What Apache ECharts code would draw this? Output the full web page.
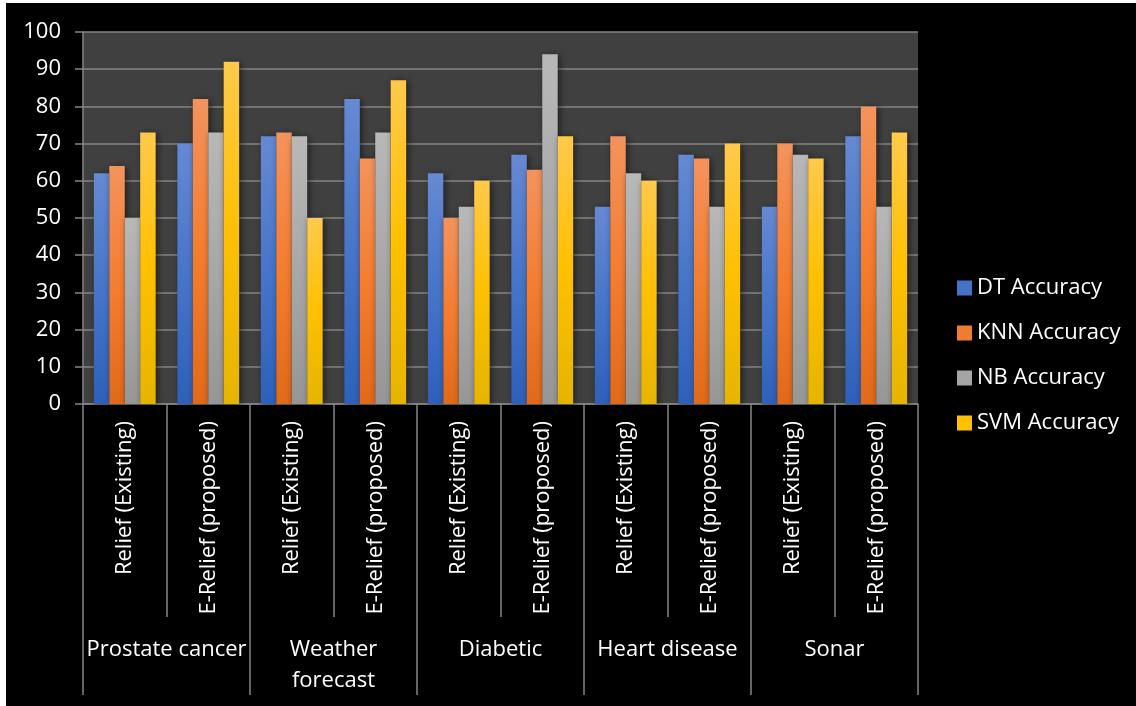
<!DOCTYPE html>
<html>
<head>
<meta charset="utf-8">
<script src="https://cdn.jsdelivr.net/npm/echarts@6/dist/echarts.min.js"></script>
<style>
  html, body { margin: 0; padding: 0; background: #ffffff; }
  #chart { width: 1136px; height: 706px; }
</style>
</head>
<body>
<div id="chart"></div>
<script>
// Feature-selection methods, one pair per dataset
const subCategories = [
  'Relief (Existing)', 'E-Relief (proposed)',
  'Relief (Existing)', 'E-Relief (proposed)',
  'Relief (Existing)', 'E-Relief (proposed)',
  'Relief (Existing)', 'E-Relief (proposed)',
  'Relief (Existing)', 'E-Relief (proposed)'
];
const datasets = ['Prostate cancer', 'Weather\nforecast', 'Diabetic', 'Heart disease', 'Sonar'];

// Classifier accuracy (%)
const dtAccuracy  = [62, 70, 72, 82, 62, 67, 53, 67, 53, 72];
const knnAccuracy = [64, 82, 73, 66, 50, 63, 72, 66, 70, 80];
const nbAccuracy  = [50, 73, 72, 73, 53, 94, 62, 53, 67, 53];
const svmAccuracy = [73, 92, 50, 87, 60, 72, 60, 70, 66, 73];

const seriesNames = ['DT Accuracy', 'KNN Accuracy', 'NB Accuracy', 'SVM Accuracy'];
const yMin = 0, yMax = 100, yStep = 10;

const FONT = '"Open Sans", "Noto Sans", sans-serif';
const LINE = '#858585';

function grad(top, mid, bottom) {
  return new echarts.graphic.LinearGradient(0, 0, 0, 1, [
    { offset: 0, color: top },
    { offset: 0.5, color: mid },
    { offset: 1, color: bottom }
  ]);
}

const fills = [
  grad('#6689d3', '#4775c9', '#2e60ba'),
  grad('#f3935c', '#f47d30', '#e0691a'),
  grad('#b8b8b8', '#a8a8a8', '#969696'),
  grad('#ffc94c', '#ffc000', '#e6b400')
];
const legendColors = ['#4472c4', '#ed7d31', '#a5a5a5', '#ffc000'];
const values = [dtAccuracy, knnAccuracy, nbAccuracy, svmAccuracy];

const chart = echarts.init(document.getElementById('chart'), null, { renderer: 'canvas' });

chart.setOption({
  backgroundColor: '#000000',
  animation: false,
  textStyle: { fontFamily: FONT },
  graphic: [
    { type: 'rect', left: 0, top: 0, shape: { width: 6, height: 706 }, style: { fill: '#ffffff' }, z: 100 },
    { type: 'rect', left: 0, top: 0, shape: { width: 1136, height: 3 }, style: { fill: '#ffffff' }, z: 100 }
  ],
  grid: {
    left: 83, right: 218, top: 32, bottom: 302,
    show: true, backgroundColor: '#404040', borderWidth: 0
  },
  legend: {
    orient: 'vertical',
    left: 957, top: 276,
    padding: 0,
    itemWidth: 15, itemHeight: 15, itemGap: 21,
    icon: 'rect',
    textStyle: { color: '#ffffff', fontSize: 22, lineHeight: 24, fontFamily: FONT },
    data: seriesNames.map((n, i) => ({ name: n, itemStyle: { color: legendColors[i] } }))
  },
  xAxis: [
    {
      type: 'category',
      data: subCategories,
      position: 'bottom',
      axisLine: { show: true, lineStyle: { color: LINE, width: 1.5 } },
      axisTick: { show: true, length: 213, interval: 0, lineStyle: { color: LINE, width: 1.5 } },
      axisLabel: {
        interval: 0, rotate: 90, margin: 17,
        color: '#ffffff', fontSize: 22, fontFamily: FONT
      }
    },
    {
      type: 'category',
      data: datasets,
      position: 'bottom',
      gridIndex: 0,
      axisLine: { show: false },
      axisTick: { show: true, length: 291, interval: 0, lineStyle: { color: LINE, width: 1.5 } },
      axisLabel: {
        interval: 0, margin: 230,
        color: '#ffffff', fontSize: 22, lineHeight: 31, fontFamily: FONT
      }
    }
  ],
  yAxis: {
    type: 'value',
    min: yMin, max: yMax, interval: yStep,
    axisLine: { show: true, lineStyle: { color: LINE, width: 1.5 } },
    axisTick: { show: true, length: 8, lineStyle: { color: LINE, width: 1.5 } },
    axisLabel: { color: '#ffffff', fontSize: 22, margin: 22, fontFamily: FONT },
    splitLine: { show: true, lineStyle: { color: LINE, width: 1.5 } }
  },
  series: seriesNames.map((name, i) => ({
    name,
    type: 'bar',
    xAxisIndex: 0,
    data: values[i],
    barGap: '0%',
    barCategoryGap: '26%',
    itemStyle: {
      color: fills[i],
      shadowColor: 'rgba(0,0,0,0.55)',
      shadowBlur: 7,
      shadowOffsetX: 2,
      shadowOffsetY: 1
    }
  }))
});
</script>
</body>
</html>
